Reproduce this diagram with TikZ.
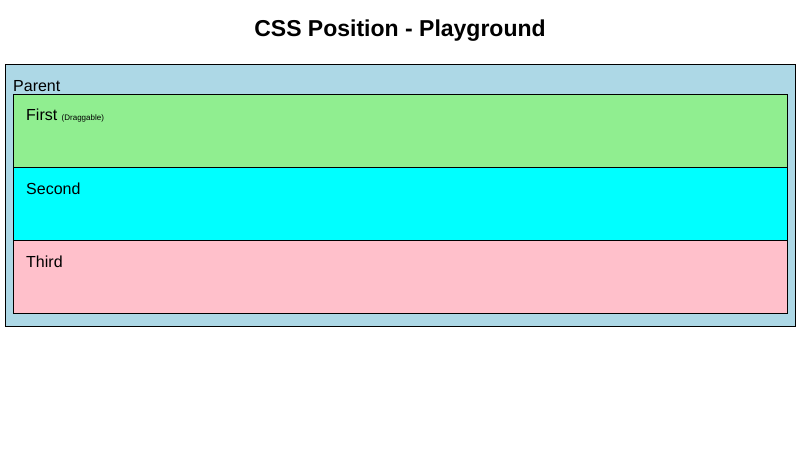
\documentclass[tikz,border=0pt]{standalone}
\usepackage{fontspec}
\setmainfont{Liberation Sans}
\definecolor{parentblue}{RGB}{173,216,230}
\definecolor{firstgreen}{RGB}{144,238,144}
\definecolor{secondcyan}{RGB}{0,255,255}
\definecolor{thirdpink}{RGB}{255,192,203}
\tikzset{
  box/.style={draw=black,line width=0.8pt},
  label/.style={anchor=west,inner sep=0pt,font=\fontsize{16}{19}\selectfont}
}
\begin{document}
\begin{tikzpicture}[x=1pt,y=-1pt]
  \useasboundingbox (0,0) rectangle (800,450);
  \node (title) at (400,31) {\fontsize{23}{28}\selectfont\bfseries CSS Position - Playground};
  \draw [box,fill=parentblue] (5,64) rectangle (795,326);
  \node [label] (parent) at (13,86) {Parent};
  \draw [box,fill=firstgreen] (13,94) rectangle (787,167);
  \draw [box,fill=secondcyan] (13,167) rectangle (787,240);
  \draw [box,fill=thirdpink] (13,240) rectangle (787,313);
  \node [label] (first) at (26,116) {First \fontsize{8}{10}\selectfont(Draggable)};
  \node [label] (second) at (26,189) {Second};
  \node [label] (third) at (26,262) {Third};
\end{tikzpicture}
\end{document}
